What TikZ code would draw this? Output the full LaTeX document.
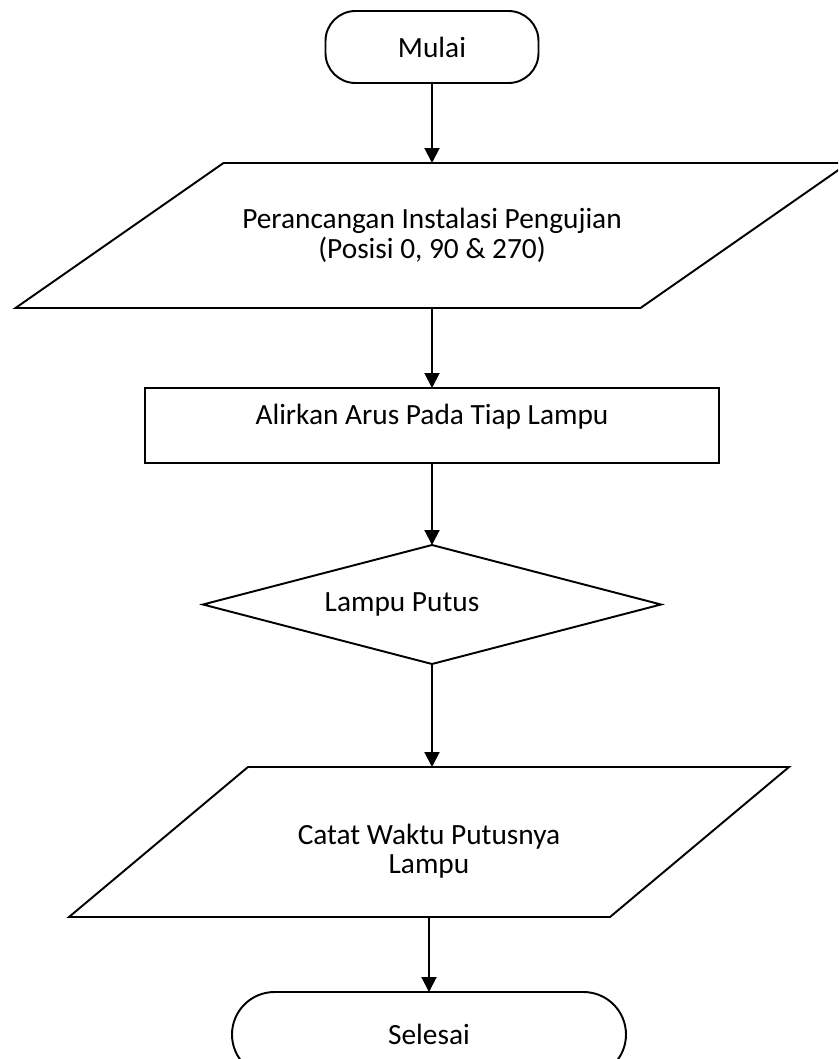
\documentclass[tikz,border=0pt]{standalone}
\usepackage{fontspec}
\setmainfont{Carlito}
\usetikzlibrary{positioning, shapes.geometric, arrows.meta}

\begin{document}
\begin{tikzpicture}[
        font=\fontsize{16.7}{16.8}\selectfont,
        line width=1.1pt, outer sep=0pt,
        terminal/.style={draw, rectangle, rounded corners=0.6cm, align=center, minimum width=4.26cm, minimum height=1.44cm},
        io/.style={rectangle, align=center},
        process/.style={draw, rectangle, align=center, minimum width=11.48cm, minimum height=1.5cm},
        decision/.style={draw, diamond, aspect=3.85, align=center, minimum width=9.16cm, minimum height=2.38cm},
        arrow/.style={-{Triangle[length=0.3cm, width=0.3cm]}, line width=1.1pt}
    ]
    \path[use as bounding box, clip] (-8.64,0.94) rectangle (8.12,-20.24);
    \node[terminal] (mulai) {Mulai};
    \node[io, minimum width=12.5cm, minimum height=2.9cm, below=1.6cm of mulai] (rancang) {Perancangan Instalasi Pengujian\\(Posisi 0, 90 \& 270)};
    \node[process, text depth=0.46cm, below=1.6cm of rancang] (alirkan) {Alirkan Arus Pada Tiap Lampu};
    \node[decision, below=1.64cm of alirkan] (putus) {\hspace*{-1.2cm}Lampu Putus};
    \node[io, text height=1.37cm, minimum width=10.82cm, minimum height=3cm, below=2.06cm of putus, xshift=-0.06cm] (catat) {Catat Waktu Putusnya\\Lampu};
    \node[terminal, rounded corners=0.85cm, minimum width=7.88cm, minimum height=1.7cm, below=1.5cm of catat] (selesai) {Selesai};

    % parallelogram outlines for the input/output boxes
    \draw ([xshift=-2.08cm]rancang.south west) -- ([xshift=-2.08cm]rancang.south east)
        -- ([xshift=2.08cm]rancang.north east) -- ([xshift=2.08cm]rancang.north west) -- cycle;
    \draw ([xshift=-1.79cm]catat.south west) -- ([xshift=-1.79cm]catat.south east)
        -- ([xshift=1.79cm]catat.north east) -- ([xshift=1.79cm]catat.north west) -- cycle;

    \draw[arrow] (mulai) -- (rancang);
    \draw[arrow] (rancang) -- (alirkan);
    \draw[arrow] (alirkan) -- (putus);
    \draw[arrow] (putus) -- (catat.north -| putus.south);
    \draw[arrow] (catat.south -| selesai.north) -- (selesai);
\end{tikzpicture}
\end{document}
